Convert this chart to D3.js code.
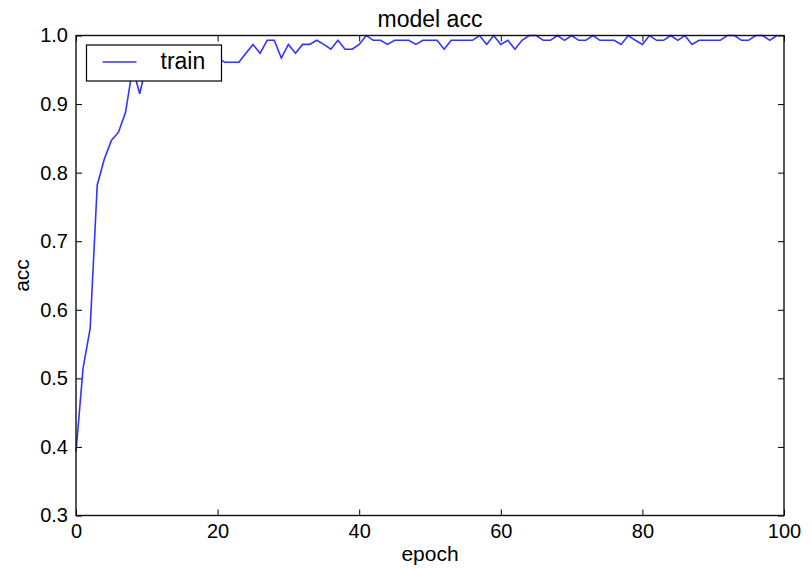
<!DOCTYPE html>
<html>
<head>
<meta charset="utf-8">
<script src="https://cdn.jsdelivr.net/npm/d3@7"></script>
<style>
  body { margin: 0; background: #fff; }
  text { font-family: "Liberation Sans", Arial, sans-serif; fill: #000; }
</style>
</head>
<body>
<script>
// training accuracy per epoch (epochs 10-20 are mostly behind the legend)
var acc = [
  0.393, 0.515, 0.573, 0.782, 0.820, 0.847, 0.859, 0.888, 0.953, 0.915,
  0.960, 0.953, 0.967, 0.960, 0.967, 0.973, 0.967, 0.960, 0.973, 0.967,
  0.967, 0.961, 0.961, 0.961, 0.974, 0.987, 0.974, 0.993, 0.993, 0.967,
  0.987, 0.974, 0.987, 0.987, 0.993, 0.987, 0.980, 0.993, 0.980, 0.980,
  0.987, 1.000, 0.993, 0.993, 0.987, 0.993, 0.993, 0.993, 0.987, 0.993,
  0.993, 0.993, 0.980, 0.993, 0.993, 0.993, 0.993, 1.000, 0.987, 1.000,
  0.987, 0.993, 0.980, 0.993, 1.000, 1.000, 0.993, 0.993, 1.000, 0.993,
  1.000, 0.993, 0.993, 1.000, 0.993, 0.993, 0.993, 0.987, 1.000, 0.993,
  0.987, 1.000, 0.993, 0.993, 1.000, 0.993, 1.000, 0.987, 0.993, 0.993,
  0.993, 0.993, 1.000, 1.000, 0.993, 0.993, 1.000, 1.000, 0.993, 1.000
];
var xTicks = [0, 20, 40, 60, 80, 100];
var yTicks = [0.3, 0.4, 0.5, 0.6, 0.7, 0.8, 0.9, 1.0];
var seriesName = "train";

var W = 812, H = 568;
var margin = {left: 76, right: 28, top: 35.5, bottom: 52.5};
var w = W - margin.left - margin.right;
var h = H - margin.top - margin.bottom;

var svg = d3.select("body").append("svg").attr("width", W).attr("height", H);
var g = svg.append("g").attr("transform", "translate(" + margin.left + "," + margin.top + ")");

var x = d3.scaleLinear().domain([0, 100]).range([0, w]);
var y = d3.scaleLinear().domain([0.3, 1.0]).range([h, 0]);

// inward ticks on all four sides, like old matplotlib
var tl = 6;
g.append("g").attr("transform", "translate(0," + h + ")")
  .call(d3.axisBottom(x).tickValues(xTicks).tickSize(-tl).tickPadding(8).tickFormat(d3.format("d")));
g.append("g")
  .call(d3.axisTop(x).tickValues(xTicks).tickSize(-tl).tickFormat(""));
g.append("g")
  .call(d3.axisLeft(y).tickValues(yTicks).tickSize(-tl).tickPadding(8).tickFormat(d3.format(".1f")));
g.append("g").attr("transform", "translate(" + w + ",0)")
  .call(d3.axisRight(y).tickValues(yTicks).tickSize(-tl).tickFormat(""));

g.selectAll(".domain").remove();
g.selectAll(".tick line").attr("stroke", "#000").attr("stroke-width", 1);
g.selectAll(".tick text").style("font-size", "20px").attr("fill", "#000");

// line
var line = d3.line().x(function(d, i){ return x(i); }).y(function(d){ return y(d); });
g.append("path").datum(acc)
  .attr("d", line)
  .attr("fill", "none")
  .attr("stroke", "#3333ff")
  .attr("stroke-width", 1.6);

// frame
g.append("rect").attr("width", w).attr("height", h)
  .attr("fill", "none").attr("stroke", "#111").attr("stroke-width", 1.4);

// legend
var lg = g.append("g").attr("transform", "translate(10.5,9.5)");
lg.append("rect").attr("width", 135).attr("height", 36)
  .attr("fill", "#fff").attr("stroke", "#000").attr("stroke-width", 1.2);
lg.append("line").attr("x1", 16).attr("x2", 50).attr("y1", 17).attr("y2", 17)
  .attr("stroke", "#3333ff").attr("stroke-width", 1.6);
lg.append("text").attr("x", 74).attr("y", 24).style("font-size", "23px").text(seriesName);

// titles
svg.append("text").attr("x", margin.left + w / 2).attr("y", 27)
  .attr("text-anchor", "middle").style("font-size", "23px").text("model acc");
svg.append("text").attr("x", margin.left + w / 2).attr("y", 561)
  .attr("text-anchor", "middle").style("font-size", "21px").text("epoch");
svg.append("text")
  .attr("transform", "translate(29," + (margin.top + h / 2) + ") rotate(-90)")
  .attr("text-anchor", "middle").style("font-size", "21px").text("acc");
</script>
</body>
</html>
